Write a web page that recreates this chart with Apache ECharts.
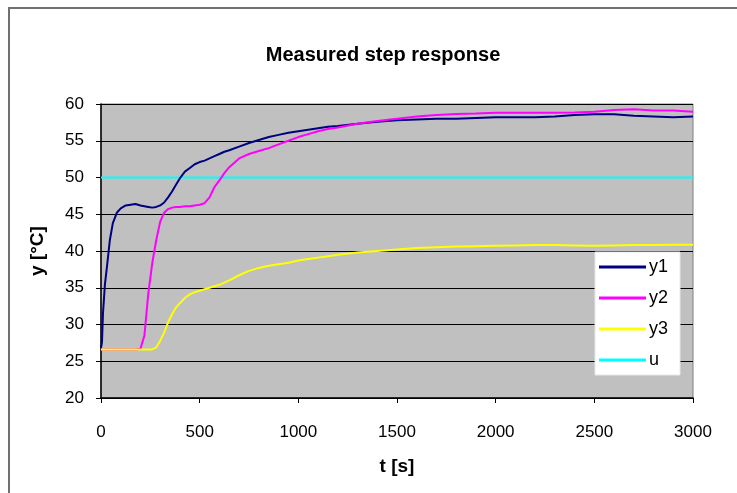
<!DOCTYPE html>
<html>
<head>
<meta charset="utf-8">
<script src="https://cdn.jsdelivr.net/npm/echarts@6/dist/echarts.min.js"></script>
<style>
  html, body { margin: 0; padding: 0; background: #ffffff; }
  #chart { width: 737px; height: 493px; }
</style>
</head>
<body>
<div id="chart"></div>
<script>
// time axis [s]
const t = [0, 5, 10, 20, 30, 45, 60, 80, 100, 125, 150, 175, 200, 220, 240, 260, 280, 300,
  320, 340, 360, 380, 400, 425, 450, 475, 500, 525, 550, 575, 600, 625, 650, 700, 750, 800,
  850, 900, 950, 1000, 1050, 1100, 1150, 1200, 1300, 1400, 1500, 1600, 1700, 1800, 1900,
  2000, 2100, 2200, 2300, 2400, 2500, 2600, 2700, 2800, 2900, 3000];

const y1 = [26.8, 27.6, 31.5, 35.5, 37.8, 41.5, 43.8, 45.2, 45.8, 46.2, 46.3, 46.4, 46.2,
  46.1, 46.0, 45.9, 46.0, 46.2, 46.6, 47.3, 48.1, 49.0, 49.9, 50.8, 51.3, 51.8, 52.1, 52.3,
  52.6, 52.9, 53.2, 53.5, 53.7, 54.2, 54.7, 55.1, 55.5, 55.8, 56.1, 56.3, 56.5, 56.7, 56.9,
  57.0, 57.3, 57.6, 57.8, 57.9, 58.0, 58.0, 58.1, 58.2, 58.2, 58.2, 58.3, 58.5, 58.6, 58.6,
  58.4, 58.3, 58.2, 58.3];

const y2 = [26.6, 26.6, 26.6, 26.6, 26.6, 26.6, 26.6, 26.6, 26.6, 26.6, 26.6, 26.6, 26.7,
  28.5, 34.3, 38.4, 41.5, 44.0, 45.2, 45.7, 45.9, 46.0, 46.0, 46.1, 46.1, 46.2, 46.3, 46.5,
  47.3, 48.7, 49.6, 50.6, 51.4, 52.6, 53.2, 53.6, 54.0, 54.5, 55.0, 55.5, 55.9, 56.3, 56.6,
  56.8, 57.3, 57.7, 58.0, 58.3, 58.5, 58.65, 58.7, 58.8, 58.8, 58.8, 58.8, 58.85, 58.95,
  59.2, 59.3, 59.1, 59.1, 58.95];

const y3 = [26.6, 26.6, 26.6, 26.6, 26.6, 26.6, 26.6, 26.6, 26.6, 26.6, 26.6, 26.6, 26.6,
  26.6, 26.6, 26.6, 26.9, 27.8, 28.9, 30.3, 31.4, 32.3, 32.9, 33.6, 34.1, 34.4, 34.6, 34.8,
  35.0, 35.2, 35.4, 35.7, 36.0, 36.7, 37.3, 37.7, 38.0, 38.2, 38.4, 38.7, 38.9, 39.1, 39.3,
  39.5, 39.8, 40.0, 40.2, 40.4, 40.5, 40.6, 40.65, 40.7, 40.75, 40.8, 40.8, 40.75, 40.7,
  40.75, 40.8, 40.8, 40.85, 40.85];

const uT = [0, 3000];
const u = [50, 50];

const seriesNames = ['y1', 'y2', 'y3', 'u'];
const seriesColors = ['#000080', '#FF00FF', '#FFFF00', '#00FFFF'];

const pairs = (xs, ys) => xs.map((x, i) => [x, ys[i]]);

const font = 'Liberation Sans, Arial, sans-serif';

const chart = echarts.init(document.getElementById('chart'));
chart.setOption({
  animation: false,
  backgroundColor: '#ffffff',
  title: {
    text: 'Measured step response',
    left: 378,
    top: 40,
    textAlign: 'center',
    textStyle: { fontFamily: font, fontSize: 20, fontWeight: 'bold', color: '#000' }
  },
  graphic: [{
    type: 'polyline',
    shape: { points: [[9, 493], [9, 8], [737, 8]] },
    style: { stroke: '#707070', lineWidth: 2, fill: null },
    silent: true
  }],
  grid: {
    left: 101, right: 44, top: 104, bottom: 95,
    show: true,
    backgroundColor: '#C0C0C0',
    borderColor: '#808080',
    borderWidth: 1,
    outerBoundsMode: 'none'
  },
  legend: {
    orient: 'vertical',
    left: 595,
    top: 252,
    backgroundColor: '#ffffff',
    borderColor: '#e8e8e8',
    borderWidth: 1,
    padding: [6, 12, 6, 4],
    itemWidth: 47,
    itemHeight: 3,
    itemGap: 13,
    icon: 'rect',
    textStyle: { fontFamily: font, fontSize: 18, color: '#000', padding: [0, 0, 0, -2] },
    data: seriesNames
  },
  xAxis: {
    type: 'value',
    min: 0, max: 3000, interval: 500,
    name: 't [s]',
    nameLocation: 'middle',
    nameGap: 59,
    nameTextStyle: { fontFamily: font, fontSize: 19, fontWeight: 'bold', color: '#000' },
    axisLine: { onZero: false, lineStyle: { color: '#000', width: 1.5 } },
    axisTick: { show: true, length: 5, lineStyle: { color: '#000' } },
    axisLabel: { fontFamily: font, fontSize: 17, color: '#000', margin: 26,
      formatter: (v) => String(v) },
    splitLine: { show: false }
  },
  yAxis: {
    type: 'value',
    min: 20, max: 60, interval: 5,
    name: 'y [°C]',
    nameLocation: 'middle',
    nameRotate: 90,
    nameGap: 54,
    nameTextStyle: { fontFamily: font, fontSize: 19, fontWeight: 'bold', color: '#000' },
    axisLine: { show: true, lineStyle: { color: '#000', width: 1.5 } },
    axisTick: { show: true, length: 5, lineStyle: { color: '#000' } },
    axisLabel: { fontFamily: font, fontSize: 17, color: '#000', margin: 17 },
    splitLine: { show: true, lineStyle: { color: '#000', width: 1 } }
  },
  series: [
    { name: 'y1', type: 'line', data: pairs(t, y1), showSymbol: false,
      lineStyle: { color: seriesColors[0], width: 2 }, itemStyle: { color: seriesColors[0] } },
    { name: 'y2', type: 'line', data: pairs(t, y2), showSymbol: false,
      lineStyle: { color: seriesColors[1], width: 2 }, itemStyle: { color: seriesColors[1] } },
    { name: 'y3', type: 'line', data: pairs(t, y3), showSymbol: false,
      lineStyle: { color: seriesColors[2], width: 2 }, itemStyle: { color: seriesColors[2] } },
    { name: 'u', type: 'line', data: pairs(uT, u), showSymbol: false, z: 1,
      lineStyle: { color: seriesColors[3], width: 2 }, itemStyle: { color: seriesColors[3] } }
  ]
});
</script>
</body>
</html>
